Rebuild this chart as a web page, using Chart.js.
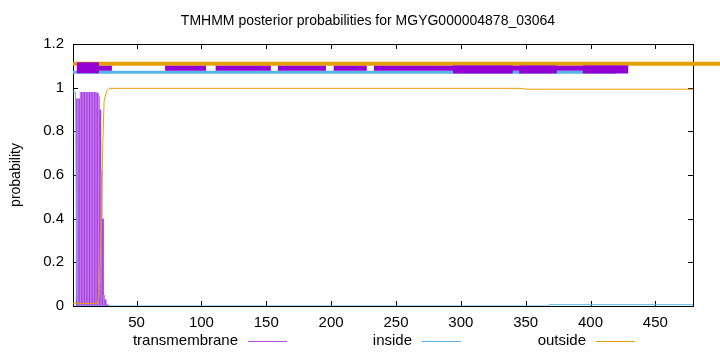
<!DOCTYPE html>
<html>
<head>
<meta charset="utf-8">
<script src="https://cdn.jsdelivr.net/npm/chart.js@4.4.0/dist/chart.umd.min.js"></script>
<style>
    html, body { margin: 0; padding: 0; background: #fff; }
    #wrap { width: 720px; height: 352px; position: relative; }
</style>
</head>
<body>
<div id="wrap"><canvas id="tmhmmChart" width="720" height="352"></canvas></div>
<script>
// ---- values ----
const chartTitle = 'TMHMM posterior probabilities for MGYG000004878_03064';
const seqStart = 1;
const seqEnd = 479;

const xTicks = [50, 100, 150, 200, 250, 300, 350, 400, 450];
const yTicks = [0, 0.2, 0.4, 0.6, 0.8, 1, 1.2];

// transmembrane posterior, drawn as impulses
const tmPos = [1, 2, 3, 4, 5, 6, 7, 8, 9, 10, 11, 12, 13, 14, 15, 16, 17, 18, 19, 20, 21, 22, 23, 24, 25, 26, 27, 28, 29, 30];
const tmProb = [0, 0, 0, 0.95, 0.95, 0.95, 0.98, 0.98, 0.98, 0.98, 0.98, 0.98, 0.98, 0.98, 0.98, 0.98, 0.98, 0.98, 0.98, 0.975, 0.96, 0.9, 0.62, 0.4, 0.05, 0.03, 0.01, 0.005, 0, 0];

// inside posterior
const insidePos = [1, 3, 4, 5, 6, 367, 368, 479];
const insideProb = [0.98, 0.98, 0.04, 0.01, 0, 0, 0.006, 0.006];

// outside posterior
const outsidePos = [1, 20, 21, 22, 23, 24, 25, 27, 29, 346, 350, 479];
const outsideProb = [0.012, 0.012, 0.05, 0.2, 0.45, 0.75, 0.94, 0.985, 0.997, 0.997, 0.993, 0.993];

// predicted topology bars along the top
const outsideBarStart = [1];
const outsideBarEnd = [500];
const insideBarStart = [1];
const insideBarEnd = [420];
const tmBarStart = [4, 72, 111, 159, 202, 233];
const tmBarEnd = [31, 103.5, 153.5, 196, 227.5, 429];
const tmWideStart = [294, 345, 394];
const tmWideEnd = [340, 374, 429];
const tmFirstStart = [4];
const tmFirstEnd = [21];

const legendItems = ['transmembrane', 'inside', 'outside'];

// colours (gnuplot defaults)
const purple = '#9400D3';
const blue = '#56B4E9';
const orange = '#E69F00';

// turn start/end lists into a broken line
function segments(starts, ends, y) {
    const pts = [];
    starts.forEach(function(s, i) {
        pts.push({ x: s, y: y });
        pts.push({ x: ends[i], y: y });
        pts.push({ x: ends[i], y: null });
    });
    return pts;
}

function zip(xs, ys) {
    return xs.map(function(x, i) { return { x: x, y: ys[i] }; });
}

Chart.defaults.font.family = '"Liberation Sans", Arial, sans-serif';
Chart.defaults.font.size = 14;
Chart.defaults.color = '#000';

// border box with inward tick marks, drawn under the data like gnuplot
const framePlugin = {
    id: 'frame',
    beforeDatasetsDraw(chart) {
        const { ctx, chartArea: a, scales } = chart;
        ctx.save();
        ctx.strokeStyle = '#000';
        ctx.lineWidth = 1;
        ctx.strokeRect(Math.round(a.left) + 0.5, Math.round(a.top) + 0.5,
            Math.round(a.right - a.left), Math.round(a.bottom - a.top));
        ctx.beginPath();
        xTicks.forEach(function(v) {
            const px = Math.round(scales.x.getPixelForValue(v)) + 0.5;
            ctx.moveTo(px, a.bottom);
            ctx.lineTo(px, a.bottom - 5);
            ctx.moveTo(px, a.top);
            ctx.lineTo(px, a.top + 5);
        });
        yTicks.forEach(function(v) {
            const py = Math.round(scales.y.getPixelForValue(v)) + 0.5;
            ctx.moveTo(a.left, py);
            ctx.lineTo(a.left + 5, py);
            ctx.moveTo(a.right, py);
            ctx.lineTo(a.right - 5, py);
        });
        ctx.stroke();
        ctx.restore();
    },
    afterDraw(chart) {
        const ctx = chart.ctx;
        ctx.save();
        ctx.fillStyle = '#000';
        ctx.font = '14px "Liberation Sans", Arial, sans-serif';
        ctx.textAlign = 'center';
        ctx.textBaseline = 'middle';
        ctx.fillText(chartTitle, 368, 21);

        // key: text then a short line, like gnuplot
        const lineStarts = [248, 422, 596];
        const keyColors = ['rgba(148,0,211,0.7)', blue, orange];
        ctx.font = '15px "Liberation Sans", Arial, sans-serif';
        ctx.textAlign = 'right';
        legendItems.forEach(function(label, i) {
            const lx = lineStarts[i];
            ctx.fillText(label, lx - 10, 341);
            ctx.strokeStyle = keyColors[i];
            ctx.lineWidth = 1;
            ctx.beginPath();
            ctx.moveTo(lx, 341.5);
            ctx.lineTo(lx + 39, 341.5);
            ctx.stroke();
        });
        ctx.restore();
    }
};

const ctx = document.getElementById('tmhmmChart');

new Chart(ctx, {
    type: 'line',
    data: {
        datasets: [
            {
                label: 'tm-first',
                data: segments(tmFirstStart, tmFirstEnd, 1.091),
                borderColor: purple,
                borderWidth: 11,
                order: 0
            },
            {
                label: 'tm-wide',
                data: segments(tmWideStart, tmWideEnd, 1.083),
                borderColor: purple,
                borderWidth: 8,
                order: 1
            },
            {
                label: 'tm-bar',
                data: segments(tmBarStart, tmBarEnd, 1.089),
                borderColor: purple,
                borderWidth: 5,
                order: 2
            },
            {
                label: 'inside-bar',
                data: segments(insideBarStart, insideBarEnd, 1.0705),
                borderColor: blue,
                borderWidth: 3,
                order: 3
            },
            {
                label: 'outside-bar',
                data: segments(outsideBarStart, outsideBarEnd, 1.11),
                borderColor: orange,
                borderWidth: 4,
                clip: false,
                order: 4
            },
            {
                label: 'outside',
                data: zip(outsidePos, outsideProb),
                borderColor: orange,
                borderWidth: 1,
                order: 5
            },
            {
                label: 'inside',
                data: zip(insidePos, insideProb),
                borderColor: blue,
                borderWidth: 1,
                order: 6
            },
            {
                type: 'bar',
                label: 'transmembrane',
                data: zip(tmPos, tmProb),
                backgroundColor: tmPos.map(function(p, i) {
                    return i % 2 ? '#a640e0' : '#c87cf0';
                }),
                borderWidth: 0,
                barPercentage: 1.6,
                categoryPercentage: 1,
                order: 7
            }
        ]
    },
    options: {
        responsive: false,
        animation: false,
        maintainAspectRatio: false,
        spanGaps: false,
        elements: {
            point: { radius: 0 },
            line: { tension: 0, borderCapStyle: 'butt', fill: false }
        },
        layout: {
            padding: { top: 44, right: 27, left: 0, bottom: 0 }
        },
        plugins: {
            legend: { display: false },
            title: { display: false },
            tooltip: { enabled: false }
        },
        scales: {
            x: {
                type: 'linear',
                min: seqStart,
                max: seqEnd,
                offset: false,
                afterBuildTicks: function(scale) {
                    scale.ticks = xTicks.map(function(v) { return { value: v }; });
                },
                afterFit: function(scale) { scale.height = 46; },
                grid: { display: false, drawTicks: false },
                border: { display: false },
                ticks: {
                    padding: 8,
                    maxRotation: 0,
                    autoSkip: false,
                    color: '#000',
                    font: { size: 15 }
                }
            },
            y: {
                min: 0,
                max: 1.2,
                afterBuildTicks: function(scale) {
                    scale.ticks = yTicks.map(function(v) { return { value: v }; });
                },
                afterFit: function(scale) { scale.width = 73; },
                grid: { display: false, drawTicks: false },
                border: { display: false },
                ticks: {
                    padding: 9,
                    color: '#000',
                    font: { size: 15 },
                    callback: function(v) { return String(Number(v.toFixed(1))); }
                },
                title: {
                    display: true,
                    text: 'probability',
                    color: '#000',
                    font: { size: 14 },
                    padding: { top: 8, bottom: 0 }
                }
            }
        }
    },
    plugins: [framePlugin]
});
</script>
</body>
</html>
